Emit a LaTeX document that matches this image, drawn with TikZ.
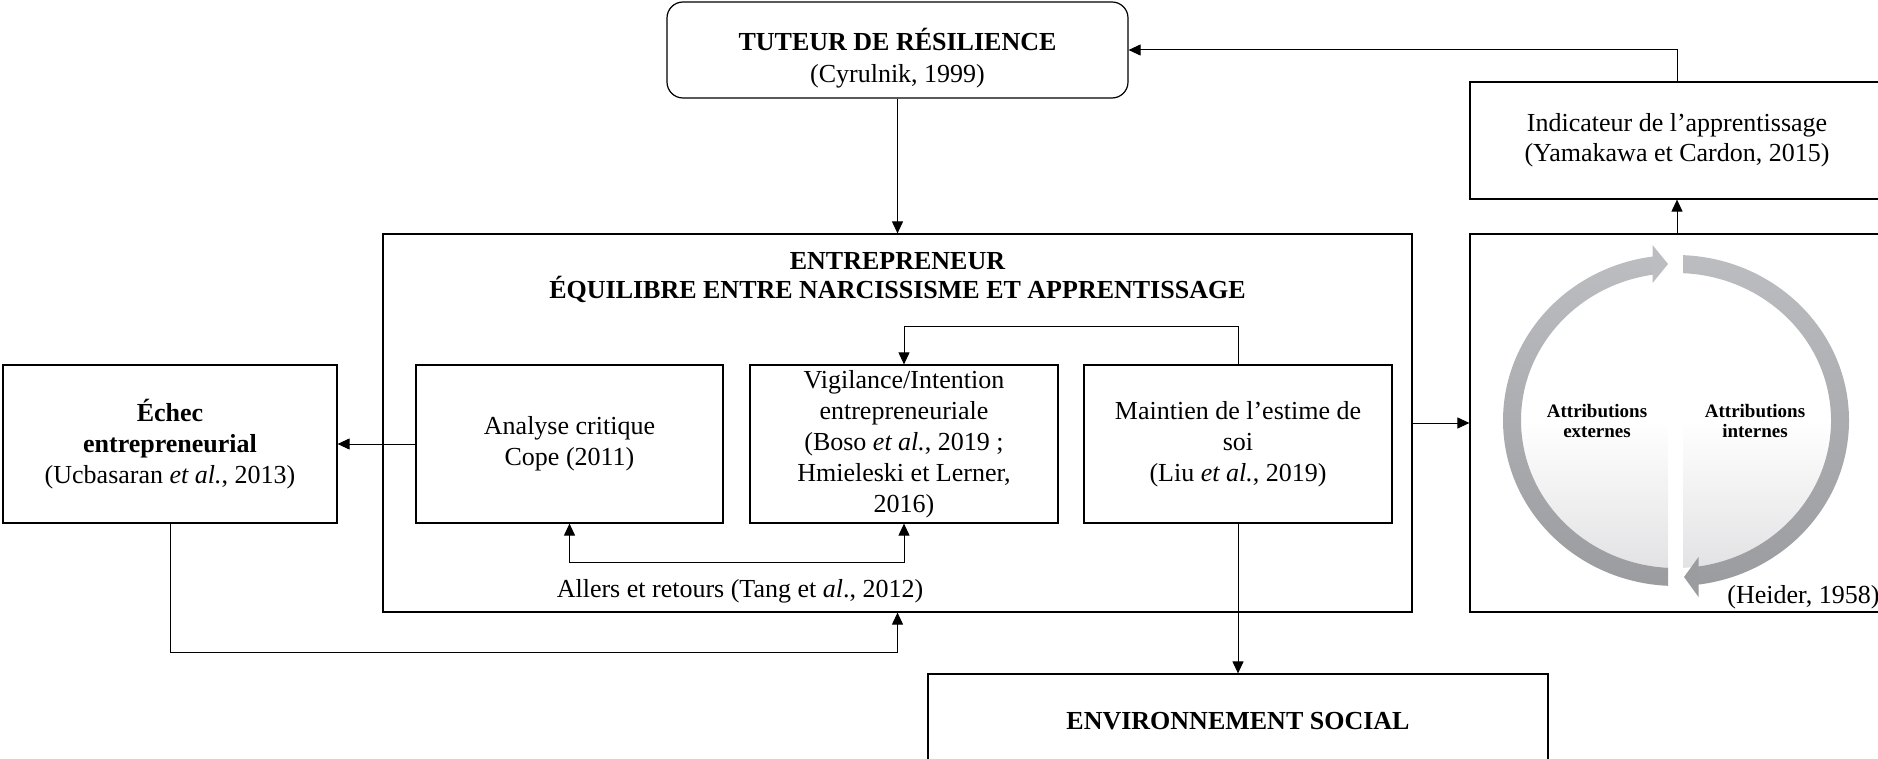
\documentclass[tikz,border=0pt]{standalone}
\usepackage{fontspec}
\setmainfont{Liberation Serif}
\usetikzlibrary{arrows.meta}
\definecolor{ringtop}{HTML}{BBBDC1}
\definecolor{ringbot}{HTML}{9A9CA0}
\definecolor{innerbot}{HTML}{E2E2E4}
\begin{document}
\begin{tikzpicture}[x=0.5pt,y=-0.5pt,
  box/.style={draw, line width=0.6pt, inner sep=0pt, align=center, font=\fontsize{13}{15.5}\selectfont},
  txt/.style={inner sep=0pt, align=center, font=\fontsize{13}{15.5}\selectfont},
  small/.style={inner sep=0pt, align=center, font=\fontsize{9.5}{10}\selectfont\bfseries},
  arr/.style={line width=0.5pt, -{Triangle[length=6pt,width=5.5pt]}},
  arrtwo/.style={line width=0.5pt, {Triangle[length=6pt,width=5.5pt]}-{Triangle[length=6pt,width=5.5pt]}}]
\useasboundingbox (0,0) rectangle (1878,759);

% boxes
\node[box, rounded corners=8pt, minimum width=230.5pt, minimum height=48pt] (tut) at (897.5,50) {};
\node[txt, font=\fontsize{13}{16}\selectfont] (tutT) at (897.5,58) {\textbf{TUTEUR DE RÉSILIENCE}\\(Cyrulnik, 1999)};

\node[box, minimum width=207pt, minimum height=58.5pt, font=\fontsize{13}{15}\selectfont] (ind) at (1677,140.5) {Indicateur de l’apprentissage\\(Yamakawa et Cardon, 2015)};

\node[box, minimum width=207pt, minimum height=189pt] (hei) at (1677,423) {};
\node[box, minimum width=514.5pt, minimum height=189pt] (ent) at (897.5,423) {};
\node[txt, font=\fontsize{13}{14.5}\selectfont\bfseries] (entT) at (897.5,277.5) {ENTREPRENEUR\\ÉQUILIBRE ENTRE NARCISSISME ET APPRENTISSAGE};

\node[box, minimum width=153.5pt, minimum height=79pt] (ana) at (569.5,444) {Analyse critique\\Cope (2011)};
\node[box, minimum width=154pt, minimum height=79pt] (vig) at (904,444) {Vigilance/Intention\\entrepreneuriale\\(Boso \textit{et al.}, 2019 ;\\Hmieleski et Lerner,\\2016)};
\node[box, minimum width=154pt, minimum height=79pt] (mai) at (1238,444) {Maintien de l’estime de\\soi\\(Liu \textit{et al.}, 2019)};
\node[box, minimum width=167pt, minimum height=79pt] (ech) at (170,444) {\textbf{Échec}\\\textbf{entrepreneurial}\\(Ucbasaran \textit{et al.}, 2013)};
\node[box, minimum width=310pt, minimum height=44pt] (env) at (1238,718) {};
\node[txt, font=\fontsize{13}{15.5}\selectfont\bfseries] (envT) at (1238,721) {ENVIRONNEMENT SOCIAL};

\node[txt] (aller) at (740,591) {Allers et retours (Tang et \textit{al}., 2012)};
\node[txt, anchor=west] (heiT) at (1727,597) {(Heider, 1958)};

% cycle of attributions
\begin{scope}[shift={(1676,420.5)}, y=0.5pt]
  \begin{scope}
    \clip (0,0) ellipse [x radius=155, y radius=147.5];
    \shade[top color=white, bottom color=innerbot, middle color=white] (-160,150) rectangle (-8,-150);
    \shade[top color=white, bottom color=innerbot, middle color=white] (7,150) rectangle (160,-150);
  \end{scope}
  \shade[top color=ringtop, bottom color=ringbot]
    (267.35:173 and 165.5) arc[x radius=173, y radius=165.5, start angle=267.35, end angle=97.64]
    -- (98.53:155 and 147.5) arc[x radius=155, y radius=147.5, start angle=98.53, end angle=267.04] -- cycle;
  \fill[ringtop] (-23.5,175.5) -- (-8,156.5) -- (-23.5,137.5) -- cycle;
  \shade[top color=ringtop, bottom color=ringbot]
    (87.68:173 and 165.5) arc[x radius=173, y radius=165.5, start angle=87.68, end angle=-82.69]
    -- (-81.84:155 and 147.5) arc[x radius=155, y radius=147.5, start angle=-81.84, end angle=87.41] -- cycle;
  \fill[ringbot] (22.5,-136.5) -- (8,-156.5) -- (22.5,-176.5) -- cycle;
  \node[small] (attE) at (-79,0) {Attributions\\externes};
  \node[small] (attI) at (79,0) {Attributions\\internes};
\end{scope}

% connectors
\draw[arr] (tut.south) -- (ent.north);
\draw[arr] (ind.north) |- (tut.east);
\draw[arr] (hei.north) -- (ind.south);
\draw[arr] (ent.east) -- (hei.west);
\draw[arr] (ana.west) -- (ech.east);
\draw[arr] (mai.north) -- ++(0,-38) -| (vig.north);
\draw[arrtwo] (ana.south) -- ++(0,39) -| (vig.south);
\draw[arr] (ech.south) -- ++(0,129) -| (ent.south);
\draw[arr] (mai.south) -- (env.north);
\end{tikzpicture}
\end{document}
